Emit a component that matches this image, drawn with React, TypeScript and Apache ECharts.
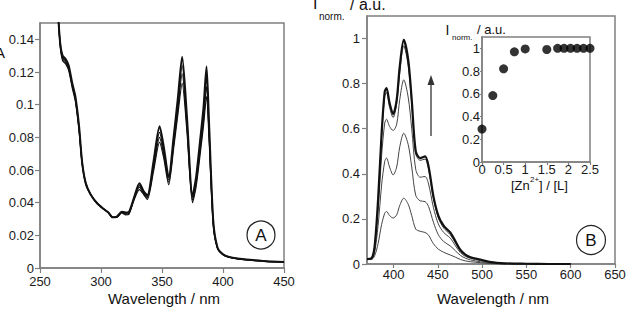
import { useEffect, useRef } from "react";
import * as echarts from "echarts";

// ---------- Panel A: absorbance ----------
const absX = [264, 266.5, 268.5, 271, 273.5, 276.5, 279, 282, 284.5, 287.5, 291.5, 297, 302.5, 306, 309.5, 313, 317, 320, 323, 327, 331.5, 335, 338, 343, 348, 351.5, 355.5, 359.5, 363, 366.5, 370.5, 375, 378, 381.5, 384, 386.5, 388.5, 392, 395.5, 400, 405, 412, 422, 435, 450];
const absTop = [0.165, 0.138, 0.130, 0.128, 0.124, 0.113, 0.105, 0.087, 0.065, 0.052, 0.045, 0.0395, 0.036, 0.034, 0.031, 0.0315, 0.0345, 0.034, 0.0345, 0.043, 0.0519, 0.047, 0.0445, 0.065, 0.0868, 0.074, 0.0556, 0.080, 0.104, 0.1294, 0.092, 0.0443, 0.056, 0.080, 0.098, 0.1233, 0.090, 0.029, 0.0125, 0.0084, 0.0068, 0.0058, 0.005, 0.0042, 0.0037];
const absB = [0.165, 0.138, 0.129, 0.127, 0.123, 0.112, 0.104, 0.086, 0.065, 0.052, 0.045, 0.0395, 0.036, 0.034, 0.031, 0.0313, 0.0342, 0.0335, 0.034, 0.0425, 0.0505, 0.046, 0.0438, 0.063, 0.083, 0.071, 0.054, 0.077, 0.100, 0.124, 0.089, 0.043, 0.054, 0.077, 0.094, 0.117, 0.086, 0.028, 0.0123, 0.0083, 0.0067, 0.0057, 0.005, 0.0042, 0.0037];
const absC = [0.165, 0.137, 0.128, 0.126, 0.122, 0.111, 0.103, 0.085, 0.064, 0.052, 0.045, 0.0395, 0.036, 0.034, 0.031, 0.0312, 0.034, 0.033, 0.0335, 0.042, 0.0495, 0.0455, 0.043, 0.061, 0.080, 0.069, 0.0525, 0.075, 0.097, 0.119, 0.086, 0.0415, 0.052, 0.074, 0.090, 0.111, 0.083, 0.027, 0.0121, 0.0082, 0.0066, 0.0056, 0.0049, 0.0041, 0.0036];
const absD = [0.165, 0.136, 0.127, 0.125, 0.121, 0.110, 0.102, 0.084, 0.064, 0.051, 0.045, 0.0395, 0.036, 0.034, 0.031, 0.031, 0.0337, 0.0325, 0.033, 0.0415, 0.048, 0.045, 0.042, 0.059, 0.077, 0.067, 0.051, 0.073, 0.094, 0.113, 0.083, 0.040, 0.050, 0.071, 0.087, 0.105, 0.080, 0.026, 0.012, 0.0081, 0.0065, 0.0055, 0.0048, 0.004, 0.0035];
const absXTicks = [250, 300, 350, 400, 450];
const absYTicks = [0, 0.02, 0.04, 0.06, 0.08, 0.1, 0.12, 0.14];

// ---------- Panel B: emission ----------
const emX = [370, 375, 378.5, 382.5, 386.5, 390, 392, 395.5, 399.5, 403.5, 407, 411.5, 416.5, 420.5, 425, 430, 435.5, 439.5, 445, 450.5, 456.5, 464, 470, 475.5, 481, 487, 498, 510, 525, 550, 575, 600];
const em100 = [0.022, 0.025, 0.075, 0.285, 0.58, 0.765, 0.78, 0.714, 0.665, 0.728, 0.876, 0.994, 0.906, 0.728, 0.5, 0.47, 0.477, 0.433, 0.3, 0.215, 0.17, 0.14, 0.1, 0.062, 0.042, 0.03, 0.02, 0.008, 0.003, 0.001, 0, 0];
const em97 = [0.022, 0.025, 0.073, 0.275, 0.565, 0.745, 0.76, 0.695, 0.65, 0.71, 0.85, 0.968, 0.88, 0.71, 0.49, 0.46, 0.465, 0.42, 0.29, 0.205, 0.16, 0.13, 0.092, 0.058, 0.04, 0.028, 0.018, 0.007, 0.003, 0.001, 0, 0];
const em81 = [0.02, 0.022, 0.062, 0.235, 0.48, 0.625, 0.642, 0.61, 0.592, 0.62, 0.73, 0.817, 0.74, 0.6, 0.42, 0.385, 0.388, 0.355, 0.25, 0.178, 0.14, 0.115, 0.08, 0.05, 0.034, 0.025, 0.015, 0.006, 0.002, 0.001, 0, 0];
const em58 = [0.02, 0.021, 0.05, 0.17, 0.35, 0.455, 0.47, 0.43, 0.395, 0.43, 0.52, 0.58, 0.53, 0.43, 0.305, 0.28, 0.277, 0.255, 0.185, 0.13, 0.1, 0.08, 0.058, 0.038, 0.026, 0.018, 0.01, 0.004, 0.001, 0, 0, 0];
const em29 = [0.02, 0.02, 0.035, 0.09, 0.175, 0.225, 0.233, 0.215, 0.204, 0.218, 0.26, 0.292, 0.265, 0.215, 0.155, 0.145, 0.14, 0.128, 0.09, 0.066, 0.052, 0.04, 0.03, 0.02, 0.014, 0.01, 0.006, 0.002, 0, 0, 0, 0];
const emXTicks = [400, 450, 500, 550, 600, 650];
const emYTicks = [0, 0.2, 0.4, 0.6, 0.8, 1];

// ---------- Inset: titration ----------
const zX = [0, 0.25, 0.5, 0.75, 1, 1.5, 1.75, 1.9, 2.05, 2.2, 2.35, 2.5];
const zY = [0.29, 0.585, 0.82, 0.97, 0.995, 0.99, 1.0, 1.0, 1.0, 1.0, 1.0, 1.0];
const zXTicks = [0, 0.5, 1, 1.5, 2, 2.5];
const zYTicks = [0, 0.2, 0.4, 0.6, 0.8, 1];

const FONT = "'Liberation Sans', Arial, sans-serif";
const AX = "#808080";
const TXT = "#1a1a1a";

const pair = (xs: number[], ys: number[]) => xs.map((x, i) => [x, ys[i]]);
const fmt = (v: number) => String(parseFloat(Number(v).toFixed(3)));

function valueAxis(grid: number, min: number, max: number, ticks: number[], opts: any) {
  return {
    type: "value",
    gridIndex: grid,
    min,
    max,
    splitLine: { show: false },
    axisLine: { show: true, onZero: false, lineStyle: { color: AX, width: 1.5 } },
    axisTick: { show: true, inside: false, length: opts.tickLen ?? 5, customValues: ticks, lineStyle: { color: AX, width: 1.2 } },
    axisLabel: {
      show: true,
      customValues: ticks,
      formatter: fmt,
      color: TXT,
      fontFamily: FONT,
      fontSize: opts.fontSize ?? 13,
      margin: opts.margin ?? 7,
      padding: opts.padding ?? 0,
      showMinLabel: true,
      showMaxLabel: true,
      hideOverlap: false,
    },
  };
}

function txt(text: string, x: number, y: number, size: number, align = "left") {
  return {
    type: "text",
    x,
    y,
    silent: true,
    style: { text, fontSize: size, fontFamily: FONT, fill: "#111111", align, verticalAlign: "middle" },
  };
}

export default function App() {
  const ref = useRef<HTMLDivElement>(null);
  useEffect(() => {
    if (!ref.current) return;
    const chart = echarts.init(ref.current, null, { renderer: "svg" });
    const absLine = (ys: number[], w: number) => ({
      type: "line",
      xAxisIndex: 0,
      yAxisIndex: 0,
      data: pair(absX, ys),
      showSymbol: false,
      smooth: 0.25,
      lineStyle: { color: "#111", width: w },
      clip: true,
      silent: true,
    });
    const emLine = (ys: number[], w: number, c: string) => ({
      type: "line",
      xAxisIndex: 1,
      yAxisIndex: 1,
      data: pair(emX, ys),
      showSymbol: false,
      smooth: 0.3,
      lineStyle: { color: c, width: w },
      clip: true,
      silent: true,
    });
    chart.setOption({
      animation: false,
      backgroundColor: "#ffffff",
      textStyle: { fontFamily: FONT },
      grid: [
        { left: 40, top: 23, width: 244, height: 245, show: true, borderColor: AX, borderWidth: 1.5, backgroundColor: "transparent" },
        { left: 367, top: 16, width: 248, height: 248, show: true, borderColor: AX, borderWidth: 1.5, backgroundColor: "transparent" },
        { left: 482, top: 37, width: 108, height: 125, show: true, borderColor: AX, borderWidth: 1.5, backgroundColor: "#ffffff" },
      ],
      xAxis: [
        valueAxis(0, 250, 450, absXTicks, { margin: 7, tickLen: 5 }),
        valueAxis(1, 370, 650, emXTicks, { margin: 4, tickLen: 4 }),
        valueAxis(2, 0, 2.5, zXTicks, { margin: 1, tickLen: 3 }),
      ],
      yAxis: [
        valueAxis(0, 0, 0.15, absYTicks, { margin: 6, tickLen: 5 }),
        valueAxis(1, 0, 1.1, emYTicks, { margin: 7, tickLen: 5 }),
        valueAxis(2, 0, 1.1, zYTicks, { margin: 2, tickLen: 2, padding: [0, 0, 7, 0] }),
      ],
      series: [
        absLine(absD, 1.2),
        absLine(absC, 1.2),
        absLine(absB, 1.2),
        absLine(absTop, 2),
        emLine(em29, 1, "#444"),
        emLine(em58, 1, "#444"),
        emLine(em81, 1, "#444"),
        emLine(em97, 1, "#333"),
        emLine(em100, 2.2, "#111"),
        {
          type: "scatter",
          xAxisIndex: 2,
          yAxisIndex: 2,
          data: pair(zX, zY),
          symbol: "circle",
          symbolSize: 9,
          itemStyle: { color: "#000" },
          silent: true,
          z: 10,
        },
      ],
      graphic: [
        txt("A", -5, 52, 15),
        txt("Wavelength / nm", 164, 298, 15, "center"),
        txt("Wavelength / nm", 493, 298, 15, "center"),
        txt("I", 313, 3, 16),
        txt("norm.", 319, 16, 10),
        txt("/ a.u.", 350, 4, 16),
        txt("I", 445.5, 30, 14),
        txt("norm.", 452, 37, 8),
        txt("/ a.u.", 477, 29, 13),
        txt("[Zn", 511, 185, 13),
        txt("2+", 530, 179, 8),
        txt("] / [L]", 539, 185, 13),
        { type: "line", silent: true, shape: { x1: 431, y1: 136, x2: 431, y2: 82 }, style: { stroke: "#333", lineWidth: 1.3 } },
        { type: "polygon", silent: true, shape: { points: [[427.5, 85], [431, 75], [434.5, 85]] }, style: { fill: "#333" } },
        { type: "circle", silent: true, shape: { cx: 261, cy: 235, r: 14 }, style: { fill: "none", stroke: "#222", lineWidth: 1.2 } },
        txt("A", 261, 235.5, 17, "center"),
        { type: "circle", silent: true, shape: { cx: 591, cy: 240, r: 14.5 }, style: { fill: "none", stroke: "#222", lineWidth: 1.2 } },
        txt("B", 591, 240.5, 17, "center"),
      ],
    });
    return () => chart.dispose();
  }, []);
  return <div ref={ref} style={{ position: "fixed", left: 0, top: 0, width: 630, height: 310 }} />;
}
